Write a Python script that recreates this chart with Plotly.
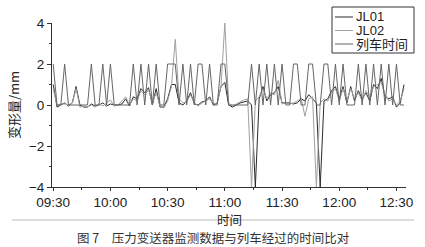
import plotly.graph_objects as go

# sample times (2-minute sampling)
times = """09:30 09:32 09:34 09:36 09:38 09:40 09:42 09:44 09:46 09:48 09:50 09:52 09:54 09:56 09:58
10:00 10:02 10:04 10:06 10:08 10:10 10:12 10:14 10:16 10:18 10:20 10:22 10:24 10:26 10:28
10:30 10:32 10:34 10:36 10:38 10:40 10:42 10:44 10:46 10:48 10:50 10:52 10:54 10:56 10:58
11:00 11:02 11:04 11:06 11:08 11:10 11:12 11:14 11:16 11:18 11:20 11:22 11:24 11:26 11:28
11:30 11:32 11:34 11:36 11:38 11:40 11:42 11:44 11:46 11:48 11:50 11:52 11:54 11:56 11:58
12:00 12:02 12:04 12:06 12:08 12:10 12:12 12:14 12:16 12:18 12:20 12:22 12:24 12:26 12:28
12:30 12:32 12:34""".split()

jl01 = [1.0, -0.1, 0.0, 0.1, -0.05, 0.1, 0.9, 0.0, -0.1, -0.1,
        0.05, -0.05, 0.0, 0.1, -0.05, 0.05, 0.0, 0.0, 0.05, 0.3,
        -0.05, 0.4, 0.3, 0.8, 0.6, 0.85, 0.0, 0.8, -0.1, -0.1,
        0.3, 1.0, 1.0, 0.1, 0.0, 0.2, 0.6, 0.05, 0.0, 0.15,
        0.2, 0.4, 0.0, 0.1, 0.9, 1.1, 0.0, -0.1, 0.0, 0.1,
        0.15, 0.2, 0.0, -4.0, 0.3, 0.9, 0.2, 0.5, 0.6, 0.9,
        0.1, 0.1, 0.1, 0.05, 0.1, 0.3, 0.2, 0.5, 0.3, 0.1,
        -4.0, 0.2, 0.3, 0.7, 0.9, 0.3, 0.9, 0.1, 0.9, 0.2,
        0.7, 0.3, 0.6, 0.2, 1.0, 0.8, 1.3, 0.4, 0.3, 0.4,
        -0.1, 0.1, 1.0]

jl02 = [0.8, 0.0, 0.05, 0.05, 0.0, 0.1, 0.8, -0.1, -0.05, -0.1,
        0.0, -0.1, 0.05, -0.05, 0.1, 0.25, -0.05, 0.0, 0.2, 0.4,
        0.0, 0.3, 0.2, 0.7, 0.5, 0.75, 0.1, 0.6, -0.05, -0.15,
        0.2, 0.9, 3.2, 0.3, 0.1, 0.15, 0.5, 0.1, -0.05, 0.1,
        0.2, 0.3, 0.05, 0.1, 0.9, 4.0, 0.1, -0.05, 0.05, 0.15,
        0.25, 0.3, -4.0, 0.2, 0.4, 0.8, 0.3, 0.6, 0.5, 1.2,
        0.05, 0.1, 0.05, 0.1, 0.2, 0.35, -0.55, 0.3, 0.4, -4.0,
        0.1, 0.3, 0.2, 0.6, 0.8, 0.2, 0.8, 0.2, 0.8, 0.3,
        0.6, 0.2, 0.7, 0.4, 0.9, 1.0, 1.1, 0.5, 0.2, 0.3,
        0.0, 0.2, 0.8]

train = [2, 0, 0, 2, 0, 0, 0, 0, 0, 0,
         2, 0, 0, 2, 0, 2, 0, 0, 0, 0,
         0, 2, 0, 2, 0, 2, 0, 2, 0, 0,
         2, 2, 2, 0, 2, 0, 2, 0, 2, 2,
         0, 2, 0, 0, 2, 2, 0, 0, 0, 0,
         0, 0, 2, 0, 2, 0, 2, 0, 2, 0,
         2, 0, 0, 2, 2, 0, 0, 2, 2, 0,
         0, 2, 2, 0, 2, 0, 2, 0, 0, 0,
         2, 0, 2, 0, 2, 0, 2, 0, 2, 0,
         2, 0, 0]

series_names = ["JL01", "JL02", "列车时间"]
y_tick_vals = [-4, -2, 0, 2, 4]
x_title = "时间"
y_title = "变形量/mm"
caption = "图 7\u3000压力变送器监测数据与列车经过的时间比对"

day = "2000-01-01 "
x = [day + t for t in times]

# plot-area geometry (pixels) used to place paper-referenced items
L, R, T, B = 52, 406, 23, 187
def px(v):
    return (v - L) / (R - L)
def py(v):
    return (B - v) / (B - T)

fig = go.Figure()
colors = ["#2a2a2a", "#a0a0a0", "#666666"]
for name, ys, c in zip(series_names, [jl01, jl02, train], colors):
    fig.add_trace(go.Scatter(x=x, y=ys, mode="lines", name=name,
                             line=dict(color=c, width=1), showlegend=False))

tick_font = dict(family="Liberation Sans, Arial, sans-serif", size=13.5, color="#222")
cjk = "Noto Sans CJK SC, Liberation Sans, sans-serif"
mixed = "Liberation Sans, Noto Sans CJK SC, sans-serif"

fig.update_layout(
    width=425, height=247,
    margin=dict(l=L, r=425 - R, t=T, b=247 - B),
    paper_bgcolor="white", plot_bgcolor="white",
    showlegend=False,
    xaxis=dict(type="date",
               range=[day + "09:29:22", day + "12:35:00"],
               tick0=day + "09:30", dtick=1800000, tickformat="%H:%M",
               showline=True, linecolor="#333", linewidth=1,
               ticks="outside", ticklen=3, tickcolor="#333",
               minor=dict(dtick=900000, ticks="outside", ticklen=2, tickcolor="#333"),
               showgrid=False, zeroline=False, tickfont=tick_font),
    yaxis=dict(range=[-4, 4], tickvals=y_tick_vals,
               showline=True, linecolor="#333", linewidth=1,
               ticks="outside", ticklen=4, tickcolor="#333",
               minor=dict(dtick=1, ticks="outside", ticklen=2, tickcolor="#333"),
               showgrid=False, zeroline=False, tickfont=tick_font,
               title=dict(text=y_title, font=dict(family=cjk, size=13, color="#222"), standoff=6)),
)

# x-axis title
fig.add_annotation(text=x_title, xref="paper", yref="paper",
                   x=0.5, y=py(208), xanchor="center", yanchor="top",
                   showarrow=False, font=dict(family=cjk, size=12.5, color="#222"))

# legend box with entries
fig.add_shape(type="rect", xref="paper", yref="paper",
              x0=px(332), x1=px(414), y0=py(53), y1=py(7),
              line=dict(color="#333", width=1), fillcolor="white", layer="above")
for i, (name, c) in enumerate(zip(series_names, colors)):
    yy = 17 + 13.5 * i
    fig.add_shape(type="line", xref="paper", yref="paper",
                  x0=px(335), x1=px(353), y0=py(yy), y1=py(yy),
                  line=dict(color=c, width=1), layer="above")
    fig.add_annotation(text=name, xref="paper", yref="paper",
                       x=px(354), y=py(yy), xanchor="left", yanchor="middle",
                       showarrow=False,
                       font=dict(family=mixed, size=13, color="#222"))

# caption rule and caption text
fig.add_shape(type="line", xref="paper", yref="paper",
              x0=px(12), x1=px(414), y0=py(220), y1=py(220),
              line=dict(color="#bbbbbb", width=1))
fig.add_annotation(text=caption, xref="paper", yref="paper",
                   x=px(213), y=py(237), xanchor="center", yanchor="middle",
                   showarrow=False, font=dict(family=cjk, size=12.5, color="#333"))

fig.write_html("out.html")
